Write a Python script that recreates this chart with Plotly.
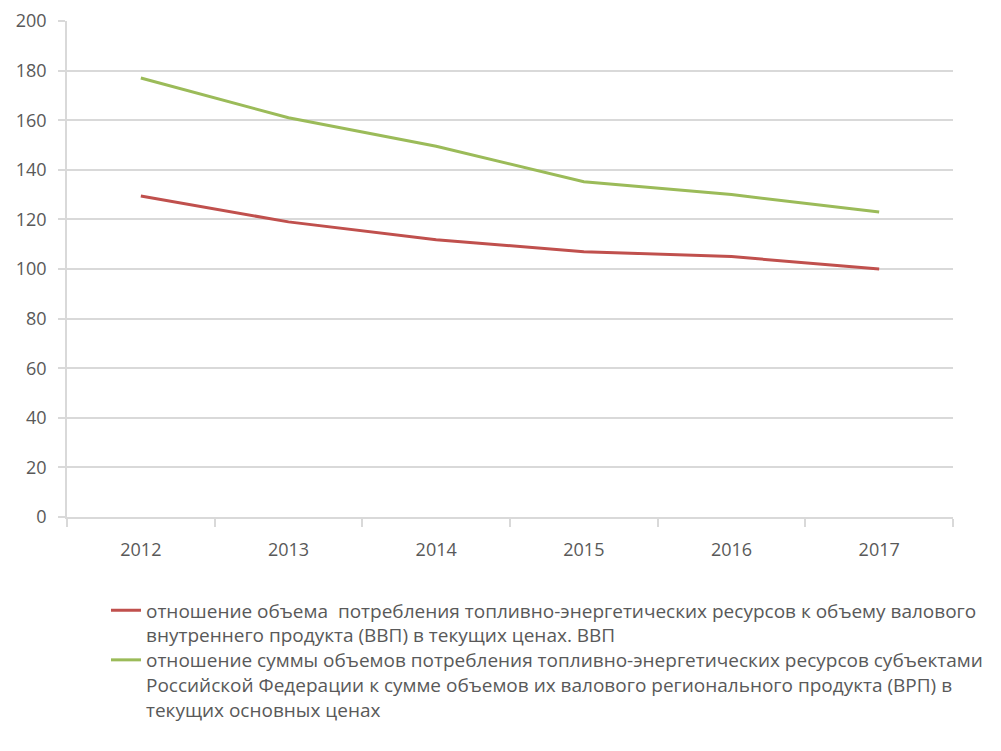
import plotly.graph_objects as go

years = ["2012", "2013", "2014", "2015", "2016", "2017"]
red_values = [129.4, 119.0, 111.8, 107.0, 105.0, 100.0]
green_values = [177.0, 161.0, 149.5, 135.2, 130.0, 123.0]
red_name = ("отношение объема  потребления топливно-энергетических ресурсов к объему валового<br>"
            "внутреннего продукта (ВВП) в текущих ценах. ВВП")
green_name = ("отношение суммы объемов потребления топливно-энергетических ресурсов субъектами<br>"
              "Российской Федерации к сумме объемов их валового регионального продукта (ВРП) в<br>"
              "текущих основных ценах")
y_ticks = [0, 20, 40, 60, 80, 100, 120, 140, 160, 180, 200]

FONT = "Open Sans"
GRAY = "#595959"
GRID = "#d9d9d9"
LEG_SIZE = 19

fig = go.Figure()
fig.add_trace(go.Scatter(x=years, y=red_values, mode="lines", name=red_name,
                         line=dict(color="#c0504d", width=3), legend="legend"))
fig.add_trace(go.Scatter(x=years, y=green_values, mode="lines", name=green_name,
                         line=dict(color="#9bbb59", width=3), legend="legend2"))

leg_common = dict(xanchor="left", yanchor="top", valign="top", orientation="v",
                  font=dict(family=FONT, size=LEG_SIZE, color=GRAY),
                  itemwidth=30, bgcolor="rgba(0,0,0,0)")
fig.update_layout(
    width=1001, height=751,
    margin=dict(l=67, r=48, t=21, b=234, autoexpand=False),
    paper_bgcolor="white", plot_bgcolor="white",
    font=dict(family=FONT, color=GRAY, size=16),
    showlegend=True,
    legend=dict(x=0.044, y=-0.15, **leg_common),
    legend2=dict(x=0.044, y=-0.25, **leg_common),
)
fig.update_xaxes(type="category", range=[-0.5, 5.5], showgrid=False, showline=True,
                 linecolor=GRID, linewidth=2,
                 ticks="outside", tickson="boundaries", ticklen=8, tickcolor=GRID, tickwidth=1.5,
                 ticklabelstandoff=15, tickfont=dict(size=18, color=GRAY))
fig.update_yaxes(range=[0, 200], tickvals=y_ticks, showgrid=True, gridcolor=GRID, gridwidth=2,
                 showline=True, linecolor=GRID, linewidth=1.5, zeroline=False,
                 ticks="outside", ticklen=7, tickcolor=GRID, tickwidth=2,
                 ticklabelstandoff=8, tickfont=dict(size=18, color=GRAY))

fig.write_html("out.html")
